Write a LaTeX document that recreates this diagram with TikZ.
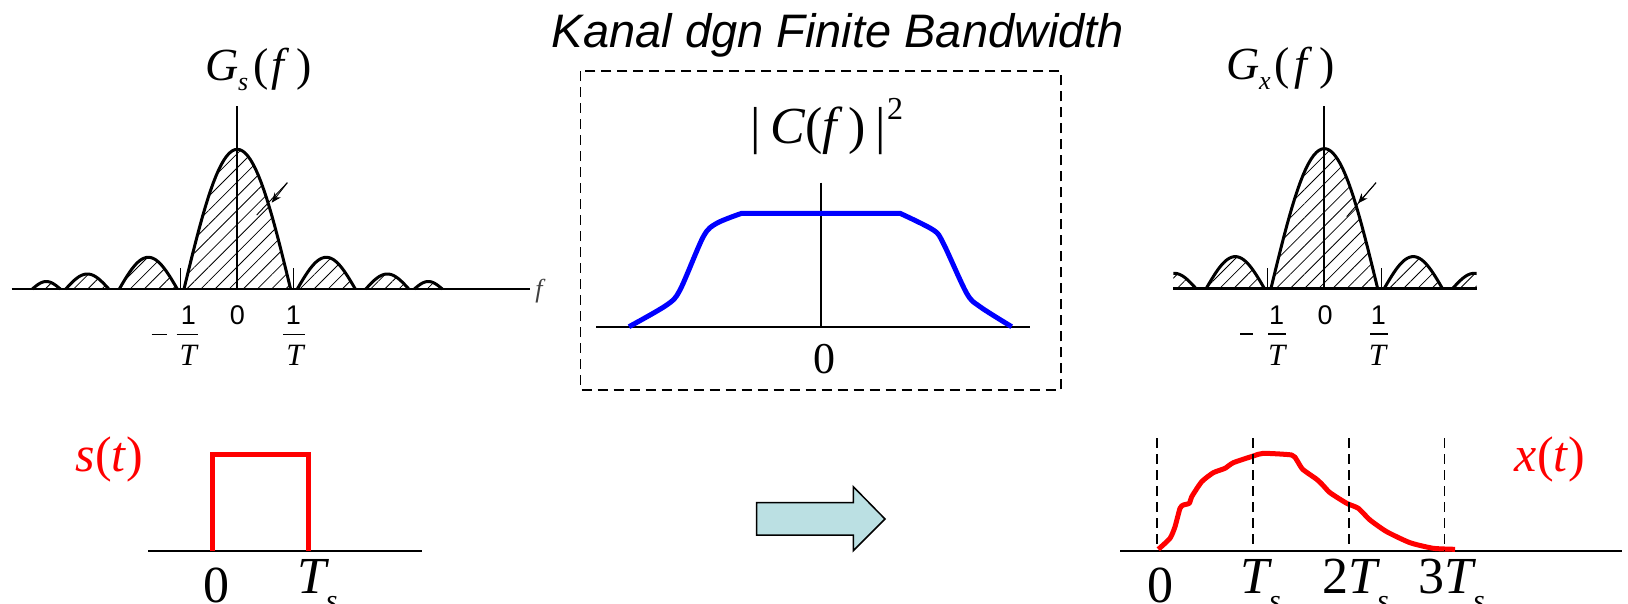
\documentclass[tikz,border=0pt]{standalone}
\usepackage{fontspec}
\setmainfont{Liberation Serif}
\newfontfamily\sansfnt{Liberation Sans}
\usetikzlibrary{patterns.meta,arrows.meta}
\newcommand\fsz[1]{\fontsize{#1}{#1}\selectfont}
\definecolor{arrowfill}{RGB}{187,224,227}
\definecolor{sigred}{RGB}{255,0,0}
\definecolor{chanblue}{RGB}{0,0,255}
\tikzset{
  lbl/.style={inner sep=0pt, outer sep=0pt},
  axisline/.style={line width=2.5pt},
  vaxis/.style={line width=2.3pt},
  tickline/.style={line width=0.9pt},
  speccurve/.style={line width=3pt, line join=round},
  hatchfill/.style={pattern={Lines[angle=45,distance=10pt,line width=0.8pt]}},
  ptr/.style={line width=0.9pt},
  chanaxis/.style={line width=1.8pt},
  chancurve/.style={draw=chanblue, line width=5pt, line join=round},
  sigaxis/.style={line width=1.6pt},
  sigcurve/.style={draw=sigred, line width=5pt, line join=round},
  guideline/.style={line width=1.6pt, dash pattern=on 10pt off 6pt},
  boxline/.style={line width=1.5pt, dash pattern=on 10pt off 6pt},
  blockarrow/.style={fill=arrowfill, draw=black, line width=1.5pt, line join=miter},
  fracbar/.style={line width=1.5pt},
  digit/.style={lbl, anchor=base, font=\sansfnt\fsz{27}},
  tden/.style={lbl, anchor=base, font=\itshape\fsz{31}},
  biglbl/.style={lbl, anchor=base, font=\fsz{52}},
  tlbl/.style={lbl, anchor=base west, font=\fsz{52}},
}
% one lobe: centre x, half width, height, baseline y
\newcommand\speclobe[4]{%
  \fill[hatchfill] plot[domain=-1:1,samples=41] ({#1+#2*\x},{#4-#3*cos(90*\x)}) -- cycle;
  \draw[speccurve] plot[domain=-1:1,samples=41] ({#1+#2*\x},{#4-#3*cos(90*\x)});}
\newcommand\specset[2]{% centre x, baseline y
  \speclobe{#1}{53.3}{139.7}{#2}
  \speclobe{#1-89}{29}{31.7}{#2}\speclobe{#1+89}{29}{31.7}{#2}
  \speclobe{#1-150}{21.5}{15}{#2}\speclobe{#1+150}{21.5}{15}{#2}
  \speclobe{#1-191}{14}{7.5}{#2}\speclobe{#1+191}{14}{7.5}{#2}}
\begin{document}
\begin{tikzpicture}[x=1pt,y=-1pt]
\useasboundingbox (0,0) rectangle (1628,603);

% ---------- title ----------
\node[lbl,anchor=base,font=\sansfnt\itshape\fsz{47}] (title) at (838,47) {Kanal dgn Finite Bandwidth};

% ---------- left spectrum ----------
\specset{237.3}{289}
\draw[axisline] (11.7,289) -- (530,289);
\draw[vaxis] (237.3,106) -- (237.3,289);
\draw[tickline] (180,268.3) -- (180,289);
\draw[tickline] (293.3,268.3) -- (293.3,289);
\draw[ptr] (287.3,182.7) -- (256.7,215);
\draw[ptr,-{Stealth[length=10pt,width=8pt]}] (287.3,182.7) -- (271.7,202.7);
\node[lbl,anchor=base,font=\itshape\fsz{26},text=black!75] (fL) at (539,297) {f};
\node[lbl,anchor=base west,font=\fsz{46}] (gsLabel) at (205,80) {\textit{G}\raisebox{-10pt}{\fsz{26}\textit{s}}\kern5pt(\kern3pt\textit{f}\kern7pt)};
\draw[fracbar] (151.7,334.3) -- (167,334.3);
\node[digit] (oneLa) at (188.3,324) {1};
\draw[fracbar] (176.7,334.3) -- (198.3,334.3);
\node[tden] (tLa) at (188.3,365) {T};
\node[digit] (zeroLa) at (237.3,324) {0};
\node[digit] (oneLb) at (293.3,324) {1};
\draw[fracbar] (283.3,334.3) -- (305,334.3);
\node[tden] (tLb) at (295,365) {T};

% ---------- channel box ----------
\draw[boxline] (580.7,71) rectangle (1061,390);
\node[lbl,anchor=base west,font=\fsz{52}] (cLabel) at (750,143.3) {|\kern10pt\textit{C}(\textit{f}\kern5pt)\kern10pt|\kern1pt\raisebox{24pt}{\fsz{32}2}};
\draw[chanaxis] (596,326.7) -- (1030,326.7);
\draw[chanaxis] (820.7,182.7) -- (820.7,326.7);
\draw[chancurve] plot[smooth,tension=0.5] coordinates {(629,326.7) (666.7,305) (680,290) (703.3,236.7) (716.7,223.3) (741.7,213.3)}
  -- plot[smooth,tension=0.5] coordinates {(900,213.3) (933.3,230) (943.3,243.3) (966.7,293.3) (980,306.7) (1011.7,326.7)};
\node[lbl,anchor=base,font=\fsz{44}] (zeroC) at (824,373) {0};

% ---------- right spectrum ----------
\begin{scope}
\clip (1173.3,90) rectangle (1476.7,300);
\specset{1324.3}{288.3}
\end{scope}
\draw[axisline] (1173.3,288.3) -- (1476.7,288.3);
\draw[vaxis] (1324.3,106) -- (1324.3,288.3);
\draw[tickline] (1267.3,268.3) -- (1267.3,288.3);
\draw[tickline] (1381.7,268.3) -- (1381.7,288.3);
\draw[ptr] (1376,182.7) -- (1346.7,216.7);
\draw[ptr,-{Stealth[length=10pt,width=8pt]}] (1376,182.7) -- (1358,203.3);
\node[lbl,anchor=base west,font=\fsz{46}] (gxLabel) at (1226,79) {\textit{G}\raisebox{-10pt}{\fsz{26}\textit{x}}\kern4pt(\kern4pt\textit{f}\kern7pt)};
\draw[fracbar] (1240,334) -- (1253.3,334);
\node[digit] (oneRa) at (1276.7,324) {1};
\draw[fracbar] (1268.3,334) -- (1286,334);
\node[tden] (tRa) at (1276.7,365) {T};
\node[digit] (zeroRa) at (1325,324) {0};
\node[digit] (oneRb) at (1378.3,324) {1};
\draw[fracbar] (1370,334) -- (1388.3,334);
\node[tden] (tRb) at (1377.5,365) {T};

% ---------- s(t) ----------
\draw[sigaxis] (148.3,550.7) -- (421.7,550.7);
\draw[sigcurve,line join=miter] (212.7,550.7) -- (212.7,454.3) -- (308.7,454.3) -- (308.7,550.7);
\node[lbl,anchor=base,font=\fsz{50},text=sigred] (sLabel) at (109.7,471.7) {\textit{s}(\textit{t})};
\node[biglbl] (zeroSL) at (216,602) {0};
\node[tlbl] (tsSL) at (297,593.7) {\textit{T}\kern-3pt\raisebox{-17pt}{\fsz{30}\textit{s}}};

% ---------- arrow ----------
\draw[blockarrow] (756.7,502.7) -- (853.3,502.7) -- (853.3,486.7) -- (885,519) -- (853.3,550.7) -- (853.3,535) -- (756.7,535) -- cycle;

% ---------- x(t) ----------
\draw[sigaxis] (1120,550.7) -- (1621.7,550.7);
\draw[sigcurve] plot[smooth,tension=0.35] coordinates {(1158.3,549.3) (1170,538.3) (1175,526.7) (1180,508.3) (1183.3,505) (1189.3,503.3) (1191.7,496.7) (1201.7,481.7) (1213.3,472.7) (1225,468.3) (1233.3,462.7) (1253.3,456) (1263.3,453.3) (1291.7,455) (1296.7,460) (1302.7,469.3) (1316.7,479.3) (1322.7,485) (1330,492.7) (1346.7,503.3) (1358.3,508.3) (1370,520) (1386.7,531.7) (1410,542.7) (1433.3,548.3) (1455,549.3)};
\draw[guideline] (1156.7,438.3) -- (1156.7,550.7);
\draw[guideline] (1252.7,438.3) -- (1252.7,550.7);
\draw[guideline] (1348.7,438.3) -- (1348.7,550.7);
\draw[guideline] (1444.3,438.3) -- (1444.3,550.7);
\node[lbl,anchor=base,font=\fsz{50},text=sigred] (xLabel) at (1550,471.7) {\textit{x}(\textit{t})};
\node[biglbl] (zeroXR) at (1160,602) {0};
\node[tlbl] (tsXR) at (1240,593.7) {\textit{T}\kern-3pt\raisebox{-17pt}{\fsz{30}\textit{s}}};
\node[tlbl] (twoTsXR) at (1322,593.7) {2\textit{T}\kern-3pt\raisebox{-17pt}{\fsz{30}\textit{s}}};
\node[tlbl] (threeTsXR) at (1418,593.7) {3\textit{T}\kern-3pt\raisebox{-17pt}{\fsz{30}\textit{s}}};
\end{tikzpicture}
\end{document}
